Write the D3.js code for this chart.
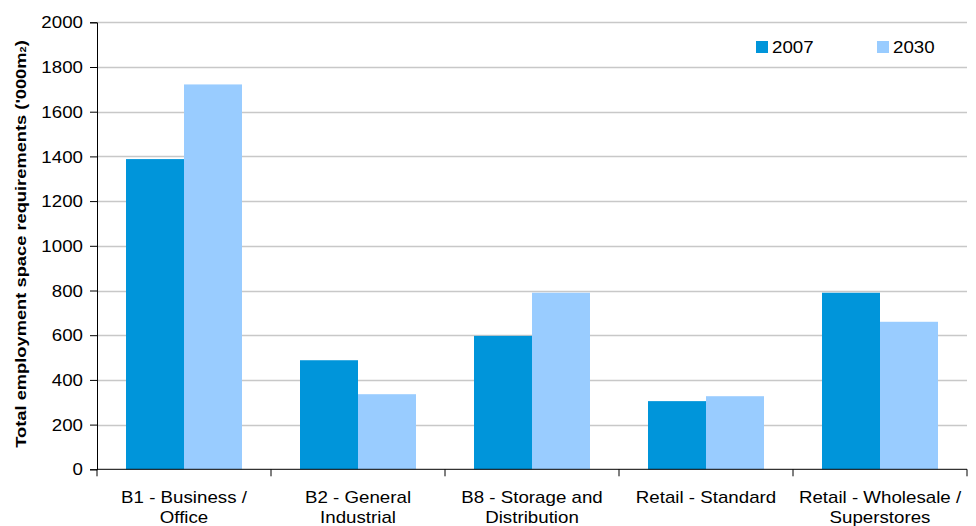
<!DOCTYPE html>
<html><head><meta charset="utf-8">
<script src="https://cdn.jsdelivr.net/npm/d3@7"></script>
<style>body{margin:0;background:#fff;}svg{display:block;font-family:"Liberation Sans",Arial,sans-serif;}</style>
</head><body>
<svg id="c" width="976" height="526"></svg>
<script>
const categories = [["B1 - Business /","Office"],["B2 - General","Industrial"],["B8 - Storage and","Distribution"],["Retail - Standard"],["Retail - Wholesale /","Superstores"]];
const seriesNames = ["2007","2030"];
const values2007 = [1388, 488, 597, 305, 790];
const values2030 = [1722, 336, 790, 327, 660];
const yTicks = [0,200,400,600,800,1000,1200,1400,1600,1800,2000];
const colors = ["#0095DA","#99CCFF"];

const SX = 1.17; // horizontal text stretch seen in the reference
const svg = d3.select("#c");
const m = {l:97, r:967, t:22.3, b:469.3};
const x = d3.scaleBand().domain(d3.range(categories.length)).range([m.l, m.r]).paddingInner(1/3).paddingOuter(1/6);
const x1 = d3.scaleBand().domain(seriesNames).range([0, x.bandwidth()]);
const y = d3.scaleLinear().domain([0,2000]).range([m.b, m.t]);

// gridlines
svg.append("g").selectAll("line").data(yTicks.filter(d=>d>0)).join("line")
  .attr("x1", m.l).attr("x2", m.r).attr("y1", d=>Math.round(y(d))+0.5).attr("y2", d=>Math.round(y(d))+0.5)
  .attr("stroke","#c8c8c8").attr("stroke-width",1.5);

// bars
const series = [values2007, values2030];
svg.append("g").selectAll("g").data(series).join("g").attr("fill",(d,i)=>colors[i])
  .each(function(vals, si){
    d3.select(this).selectAll("rect").data(vals).join("rect")
      .attr("x",(d,i)=>x(i)+x1(seriesNames[si]))
      .attr("width", x1.bandwidth())
      .attr("y", d=>y(d)).attr("height", d=>y(0)-y(d));
  });

// y axis
const yAxis = d3.axisLeft(y).tickValues(yTicks).tickSize(7).tickFormat(d3.format("d"));
const ya = svg.append("g").attr("transform",`translate(${m.l},0)`).call(yAxis);
ya.select(".domain").attr("stroke","#000");
ya.selectAll(".tick line").attr("stroke","#000");
ya.selectAll(".tick text").attr("font-size",16).attr("fill","#000")
  .attr("font-family","Liberation Sans, Arial, sans-serif")
  .attr("x",0).attr("dy","0.35em")
  .attr("transform",`translate(-14,0) scale(${SX},1)`);

// x axis
const xBoundaries = d3.range(categories.length+1).map(i=>m.l + i*(m.r-m.l)/categories.length);
const xa = svg.append("g");
xa.append("line").attr("x1",m.l).attr("x2",m.r).attr("y1",m.b).attr("y2",m.b).attr("stroke","#000");
xa.selectAll("line.t").data(xBoundaries).join("line").attr("class","t")
  .attr("x1",d=>d).attr("x2",d=>d).attr("y1",m.b).attr("y2",m.b+7).attr("stroke","#000");
xa.selectAll("text").data(categories).join("text")
  .attr("text-anchor","middle").attr("font-size",16).attr("fill","#000")
  .attr("transform",(d,i)=>`translate(${x(i)+x.bandwidth()/2},${m.b+34}) scale(${SX},1)`)
  .selectAll("tspan").data(d=>d).join("tspan").attr("x",0).attr("dy",(d,i)=>i?19.5:0).text(d=>d);

// y label
const yl = svg.append("text").attr("transform",`translate(26,244) rotate(-90) scale(1.22,1)`)
  .attr("text-anchor","middle").attr("font-size",15).attr("font-weight","bold").attr("fill","#000");
yl.append("tspan").text("Total employment space requirements ('000m");
yl.append("tspan").attr("font-size",9).text("2");
yl.append("tspan").text(")");

// legend
const lg = svg.append("g");
const lx = [756, 877];
seriesNames.forEach((s,i)=>{
  lg.append("rect").attr("x",lx[i]).attr("y",41).attr("width",12).attr("height",12).attr("fill",colors[i]);
  lg.append("text").attr("transform",`translate(${lx[i]+16},53) scale(${SX},1)`).attr("font-size",16).attr("fill","#000").text(s);
});
</script>
</body></html>
